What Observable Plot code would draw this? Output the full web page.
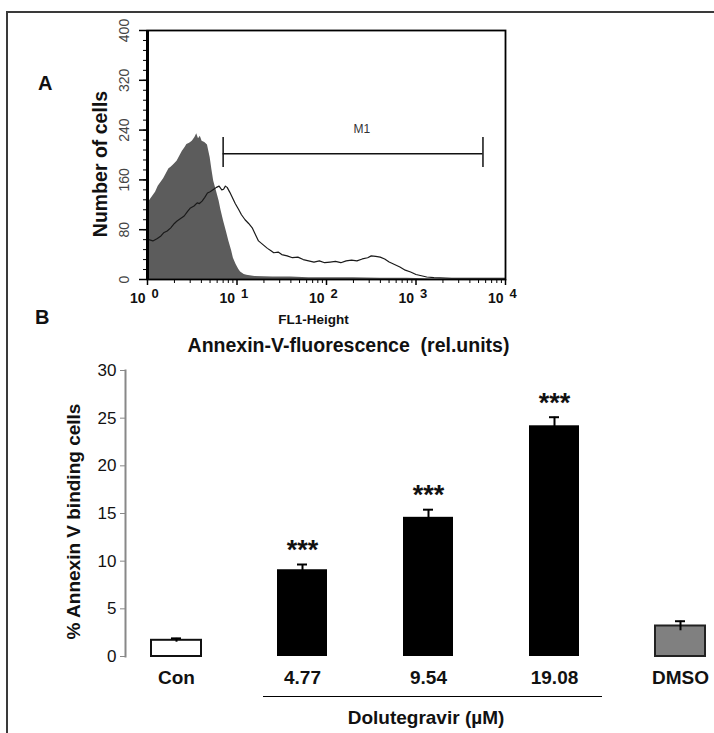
<!DOCTYPE html>
<html><head><meta charset="utf-8">
<script src="https://cdn.jsdelivr.net/npm/d3@7"></script>
<script src="https://cdn.jsdelivr.net/npm/@observablehq/plot@0.6"></script>
<style>
html,body{margin:0;padding:0;background:#fff;}
#page{position:relative;width:714px;height:733px;overflow:hidden;font-family:Arial,"Liberation Sans",sans-serif;color:#111;}
#border{position:absolute;left:6px;top:11px;width:760px;height:780px;border:2px solid #3a3a3a;}
#panelA{position:absolute;left:0;top:0;}
#panelB{position:absolute;left:0;top:360px;}
.letter{position:absolute;font-weight:bold;font-size:20px;line-height:23px;}
svg text{white-space:pre;}
</style></head><body>
<div id="page">
  <div id="border"></div>
  <div id="panelA"></div>
  <div id="panelB"></div>
  <div class="letter" style="left:38px;top:72px">A</div>
  <div class="letter" style="left:35px;top:306px">B</div>
  <div style="position:absolute;left:263px;top:696px;width:339px;border-top:1px solid #000"></div>
  <div style="position:absolute;left:316px;top:707px;width:220px;text-align:center;font-weight:bold;font-size:19px;line-height:22px">Dolutegravir (µM)</div>
</div>
<script>
// ---------- Panel A: flow cytometry histogram (FL1 in log10 units) ----------
const controlLogFL1 = [0.01,0.04,0.07,0.09,0.12,0.15,0.18,0.21,0.24,0.26,0.29,0.33,0.36,0.39,0.42,0.44,0.47,0.50,0.53,0.55,0.57,0.59,0.61,0.64,0.67,0.70,0.72,0.74,0.77,0.80,0.82,0.85,0.88,0.91,0.94,0.96,0.99,1.02,1.04,1.08,1.11,1.20,1.40,1.60,1.80,2.00,2.30,2.60,2.90,3.20,3.60,4.00];
const controlCount  = [124,130,136,140,150,156,162,170,178,180,184,190,198,206,212,217,219,222,228,234,226,230,222,220,216,196,176,158,142,126,112,94,78,61,46,34,24,16,12,8,7,5,4,4,3,3,3,2,2,1,1,1];

const treatedLogFL1 = [0.015,0.06,0.11,0.15,0.18,0.22,0.26,0.30,0.33,0.37,0.41,0.45,0.48,0.52,0.555,0.58,0.61,0.64,0.67,0.70,0.74,0.77,0.80,0.83,0.85,0.87,0.89,0.92,0.94,0.98,1.02,1.05,1.09,1.13,1.17,1.20,1.24,1.29,1.34,1.38,1.41,1.46,1.50,1.56,1.62,1.68,1.74,1.80,1.86,1.92,1.98,2.04,2.10,2.16,2.22,2.28,2.34,2.40,2.46,2.50,2.55,2.60,2.65,2.70,2.76,2.82,2.88,2.94,3.00,3.06,3.12,3.20,3.40,3.60,3.80,4.00];
const treatedCount  = [64,62,66,70,75,78,83,90,94,98,102,110,115,118,123,122,126,132,139,141,145,148,150,144,145,150,148,140,134,122,112,104,96,90,83,74,62,56,50,46,43,44,40,38,35,36,32,30,28,30,27,28,29,27,30,31,30,33,35,38,37,36,33,28,24,20,15,12,8,6,4,3,2,2,2,2];

const countTicks = [0,80,160,240,320,400];
const decadeExponents = [0,1,2,3,4];
const gateM1 = [7, 5600];       // FL1 range of marker M1
const gateM1Level = 202;        // count level at which the marker is drawn
const gateM1Label = "M1";

const control = controlLogFL1.map((l,i)=>({fl: 10**l, n: controlCount[i]}));
const treated = treatedLogFL1.map((l,i)=>({fl: 10**l, n: treatedCount[i]}));
const decades = decadeExponents.map(e => 10**e);
const minorFL = decadeExponents.slice(0,-1).flatMap(e => [2,3,4,5,6,7,8,9].map(k => k*10**e));
const countMinor = d3.range(0, 401, 16);

const font = 'Arial, "Liberation Sans", sans-serif';

const plotA = Plot.plot({
  width: 714, height: 360,
  marginLeft: 147, marginRight: 209, marginTop: 30, marginBottom: 81,
  style: {fontFamily: font, background: "transparent", overflow: "visible", color: "#111"},
  x: {type: "log", domain: [1, 10000], label: null},
  y: {domain: [0, 400], label: null},
  marks: [
    Plot.areaY(control, {x: "fl", y: "n", fill: "#5c5c5c"}),
    Plot.lineY(treated, {x: "fl", y: "n", stroke: "#1a1a1a", strokeWidth: 1.2}),
    Plot.frame({stroke: "#000", strokeWidth: 1.8}),
    Plot.ruleX([1], {stroke: "#000", strokeWidth: 3}),
    // x axis ticks
    Plot.axisX({ticks: minorFL, tickSize: 4, tickFormat: () => "", stroke: "#000", label: null}),
    Plot.axisX({ticks: decades, tickSize: 6, tickFormat: () => "", stroke: "#000", strokeWidth: 1.5, label: null}),
    Plot.text(decades, {x: d => d, text: () => "10", frameAnchor: "bottom", textAnchor: "end", lineAnchor: "middle", dx: -2, dy: 19, fontSize: 14, fontWeight: "bold", fill: "#111"}),
    Plot.text(decadeExponents, {x: d => 10**d, text: d => String(d), frameAnchor: "bottom", textAnchor: "start", lineAnchor: "middle", dx: 4, dy: 14, fontSize: 13, fontWeight: "bold", fill: "#111"}),
    // y axis ticks
    Plot.axisY({ticks: countMinor, tickSize: 4, tickFormat: () => "", stroke: "#000", label: null}),
    Plot.axisY({ticks: countTicks, tickSize: 8, tickFormat: () => "", stroke: "#000", strokeWidth: 1.5, label: null}),
    Plot.text(countTicks, {y: d => d, text: d => String(d), frameAnchor: "left", textAnchor: "middle", lineAnchor: "middle", dx: -23, rotate: -90, fontSize: 14, fill: "#444"}),
    // marker M1
    Plot.ruleY([gateM1Level], {x1: gateM1[0], x2: gateM1[1], stroke: "#111", strokeWidth: 1.5}),
    Plot.ruleX(gateM1, {x: d => d, y1: gateM1Level - 22, y2: gateM1Level + 26, stroke: "#111", strokeWidth: 1.5}),
    Plot.text([gateM1Label], {x: Math.sqrt(gateM1[0]*gateM1[1]) * 1.25, y: gateM1Level + 40, text: d => d, fontSize: 12, fill: "#333"}),
    // titles
    Plot.text(["Number of cells"], {text: d => d, frameAnchor: "left", textAnchor: "middle", lineAnchor: "middle", rotate: -90, dx: -47, dy: 9, fontSize: 19.5, fontWeight: "bold", fill: "#111"}),
    Plot.text(["FL1-Height"], {text: d => d, frameAnchor: "bottom", textAnchor: "middle", lineAnchor: "middle", dx: -13, dy: 40, fontSize: 13.5, fontWeight: "bold", fill: "#111"}),
    Plot.text(["Annexin-V-fluorescence  (rel.units)"], {text: d => d, frameAnchor: "bottom", textAnchor: "middle", lineAnchor: "middle", dx: 22, dy: 66, fontSize: 19.5, fontWeight: "bold", fill: "#111"})
  ]
});
document.getElementById("panelA").append(plotA);

// ---------- Panel B: % Annexin V binding cells ----------
const groups = ["Con", "4.77", "9.54", "19.08", "DMSO"];
const annexinPct = [1.7, 9.1, 14.6, 24.2, 3.2];
const annexinSem = [0.2, 0.55, 0.8, 0.9, 0.5];
const significance = ["", "***", "***", "***", ""];
const pctTicks = [0, 5, 10, 15, 20, 25, 30];

const barFill = {"Con": "#ffffff", "4.77": "#000000", "9.54": "#000000", "19.08": "#000000", "DMSO": "#808080"};
const barStroke = {"Con": "#111", "4.77": "none", "9.54": "none", "19.08": "none", "DMSO": "#222"};

const rows = groups.map((g,i) => ({g, v: annexinPct[i], e: annexinSem[i], s: significance[i]}));

const plotB = Plot.plot({
  width: 714, height: 373,
  marginLeft: 125, marginRight: 7, marginTop: 10, marginBottom: 77,
  style: {fontFamily: font, background: "transparent", overflow: "visible", color: "#111"},
  x: {type: "band", domain: groups, paddingInner: 0.6, paddingOuter: 0, insetLeft: 25, label: null},
  y: {domain: [0, 30], label: null},
  marks: [
    Plot.barY(rows, {x: "g", y: "v", fill: d => barFill[d.g], stroke: d => barStroke[d.g], strokeWidth: 2}),
    Plot.ruleX(rows, {x: "g", y1: d => d.v - d.e, y2: d => d.v + d.e, stroke: "#000", strokeWidth: 2}),
    Plot.tickY(rows, {x: "g", y: d => d.v + d.e, insetLeft: 20, insetRight: 20, stroke: "#000", strokeWidth: 2}),
    Plot.text(rows.filter(d => d.s), {x: "g", y: d => d.v + d.e, text: "s", dy: -14, fontSize: 27, fontWeight: "bold", fill: "#111"}),
    Plot.axisY({ticks: pctTicks, tickSize: 5, tickPadding: 4, fontSize: 17, stroke: "#888", fill: "#111", label: null}),
    Plot.frame({anchor: "left", stroke: "#888", strokeWidth: 2}),
    Plot.axisX({tickSize: 0, tickPadding: 14, fontSize: 19, fontWeight: "bold", fill: "#111", label: null}),
    Plot.text(["% Annexin V binding cells"], {text: d => d, frameAnchor: "left", textAnchor: "middle", lineAnchor: "middle", rotate: -90, dx: -52, dy: 8, fontSize: 19, fontWeight: "bold", fill: "#111"})
  ]
});
document.getElementById("panelB").append(plotB);
</script>
</body></html>
